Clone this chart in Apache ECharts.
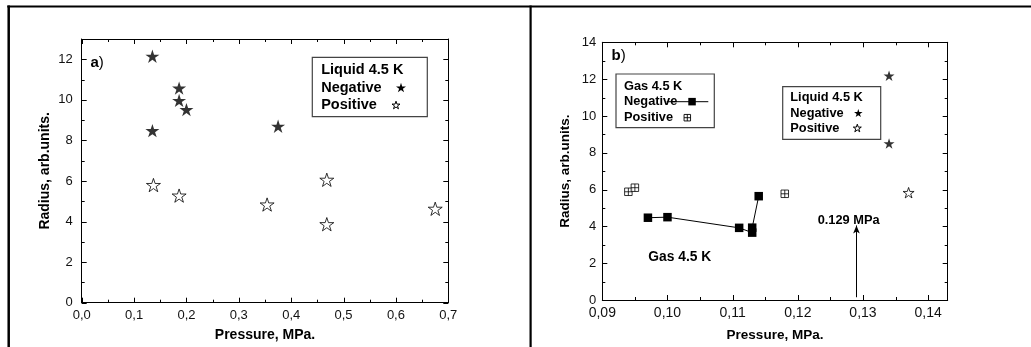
<!DOCTYPE html>
<html><head><meta charset="utf-8">
<script src="https://cdn.jsdelivr.net/npm/echarts@6/dist/echarts.min.js"></script>
<style>html,body{margin:0;padding:0;background:#fff}#c{width:1031px;height:347px}</style>
</head><body><div id="c"></div>
<script>
// ---- Panel a) data ----
const A_NEG_P = [0.135, 0.135, 0.186, 0.186, 0.200, 0.375];
const A_NEG_R = [12.15, 8.48, 10.58, 9.97, 9.52, 8.70];
const A_POS_P = [0.137, 0.186, 0.354, 0.468, 0.468, 0.675];
const A_POS_R = [5.80, 5.28, 4.84, 6.06, 3.87, 4.63];
// ---- Panel b) data ----
const B_GAS_NEG_P = [0.097, 0.100, 0.111, 0.113, 0.113, 0.114];
const B_GAS_NEG_R = [4.47, 4.50, 3.92, 3.66, 3.93, 5.64];
const B_GAS_POS_P = [0.0940, 0.0950, 0.1180];
const B_GAS_POS_R = [5.88, 6.10, 5.77];
const B_LIQ_NEG_P = [0.134, 0.134];
const B_LIQ_NEG_R = [12.18, 8.50];
const B_LIQ_POS_P = [0.137];
const B_LIQ_POS_R = [5.83];
const ARROW_P = 0.129;
const ARROW_R = [0.15, 4.05];
// ---- ticks / tick labels ----
const A_X_LABELS = [0, 0.1, 0.2, 0.3, 0.4, 0.5, 0.6, 0.7];
const A_X_MINOR = [0.05, 0.15, 0.25, 0.35, 0.45, 0.55, 0.65];
const A_Y_LABELS = [0, 2, 4, 6, 8, 10, 12];
const A_Y_MINOR = [1, 3, 5, 7, 9, 11];
const B_X_LABELS = [0.09, 0.10, 0.11, 0.12, 0.13, 0.14];
const B_X_MINOR = [0.095, 0.105, 0.115, 0.125, 0.135];
const B_Y_LABELS = [0, 2, 4, 6, 8, 10, 12, 14];
const B_Y_MINOR = [1, 3, 5, 7, 9, 11, 13];

const FONT = '"Liberation Sans", Arial, sans-serif';
const STAR_PTS = [[50,0],[61.23,34.55],[97.55,34.55],[68.16,55.9],[79.39,90.45],[50,69.1],[20.61,90.45],[31.84,55.9],[2.45,34.55],[38.77,34.55]];
const STAR_D = 'M' + STAR_PTS.map(p => p.join(',')).join('L') + 'Z';
const BOXPLUS_D = 'M0,0H10V10H0ZM5,0V10M0,5H10';
const zip = (xs, ys) => xs.map((x, i) => [x, ys[i]]);
const MAJ_LEN = 5, MIN_LEN = 3;

function axes(dim, grid, o) {
  const main = dim === 'x' ? 'bottom' : 'left';
  const opp = dim === 'x' ? 'top' : 'right';
  const frame = (pos) => ({
    type: 'value', gridIndex: grid, min: o.min, max: o.max, position: pos,
    splitLine: { show: false },
    axisLine: { show: true, onZero: false, lineStyle: { color: '#000', width: 1 } },
    axisTick: { show: false },
    axisLabel: { show: false }
  });
  const m = frame(main);
  m.name = o.name; m.nameLocation = 'middle'; m.nameGap = o.nameGap;
  m.nameTextStyle = { fontFamily: FONT, fontWeight: 'bold', fontSize: o.nameSize, color: '#000' };
  m.axisLabel = { show: true, customValues: o.labels, formatter: o.fmt, fontFamily: FONT, fontSize: o.labelSize, color: '#111', margin: o.labelMargin };
  return [m, frame(opp)];
}
const fmt1 = v => Number(v).toFixed(1).replace('.', ',');
const fmt2 = v => Number(v).toFixed(2).replace('.', ',');
const fmt0 = v => String(Math.round(v));

const xAxis = [].concat(
  axes('x', 0, { min: 0, max: 0.7, labels: A_X_LABELS, fmt: fmt1, labelSize: 13, labelMargin: 6, name: 'Pressure, MPa.', nameGap: 25, nameSize: 14 }),
  axes('x', 1, { min: 0.09, max: 0.143, labels: B_X_LABELS, fmt: fmt2, labelSize: 14, labelMargin: 6, name: 'Pressure, MPa.', nameGap: 28, nameSize: 13.5 })
);
const yAxis = [].concat(
  axes('y', 0, { min: 0, max: 13, labels: A_Y_LABELS, fmt: fmt0, labelSize: 13, labelMargin: 9, name: 'Radius, arb.units.', nameGap: 30, nameSize: 14 }),
  axes('y', 1, { min: 0, max: 14, labels: B_Y_LABELS, fmt: fmt0, labelSize: 13, labelMargin: 6, name: 'Radius, arb.units.', nameGap: 30, nameSize: 13.5 })
);
const B_AX = 2;

// inside ticks on all four sides, positioned through the axis scales
function tickData(xMaj, xMin, yMaj, yMin) {
  const out = [];
  [0, 1].forEach(side => {
    xMaj.forEach(v => out.push([0, v, MAJ_LEN, side]));
    xMin.forEach(v => out.push([0, v, MIN_LEN, side]));
    yMaj.forEach(v => out.push([1, v, MAJ_LEN, side]));
    yMin.forEach(v => out.push([1, v, MIN_LEN, side]));
  });
  return out;
}
function tickSeries(axIdx, data) {
  return {
    type: 'custom', xAxisIndex: axIdx, yAxisIndex: axIdx, silent: true, z: 3, clip: false,
    dimensions: ['d', 'v', 'len', 'side'],
    encode: { x: 1, y: 1 },
    data: data,
    renderItem: function (params, api) {
      const d = api.value(0), v = api.value(1), len = api.value(2), side = api.value(3);
      const cs = params.coordSys;
      const p = api.coord([v, v]);
      let x1, y1, x2, y2;
      if (d === 0) {
        const px = Math.round(p[0]) + 0.5;
        x1 = x2 = px;
        if (side === 0) { y1 = cs.y + cs.height; y2 = y1 - len; } else { y1 = cs.y; y2 = y1 + len; }
      } else {
        const py = Math.round(p[1]) + 0.5;
        y1 = y2 = py;
        if (side === 0) { x1 = cs.x; x2 = x1 + len; } else { x1 = cs.x + cs.width; x2 = x1 - len; }
      }
      return { type: 'line', shape: { x1: x1, y1: y1, x2: x2, y2: y2 }, style: { stroke: '#000', lineWidth: 1 } };
    }
  };
}

function starG(cx, cy, size, filled) {
  const s = size / 95.1;
  const pts = STAR_PTS.map(p => [cx + (p[0] - 50) * s, cy + (p[1] - 45.2) * s]);
  return { type: 'polygon', z: 100, shape: { points: pts },
    style: { fill: filled ? '#000' : '#fff', stroke: '#000', lineWidth: filled ? 0 : 1 } };
}
function boxPlusG(cx, cy, size) {
  const h = size / 2;
  return { type: 'group', z: 101, children: [
    { type: 'rect', z: 101, shape: { x: cx - h, y: cy - h, width: size, height: size }, style: { fill: '#fff', stroke: '#000', lineWidth: 0.9 } },
    { type: 'line', z: 102, shape: { x1: cx, y1: cy - h, x2: cx, y2: cy + h }, style: { stroke: '#000', lineWidth: 0.9 } },
    { type: 'line', z: 102, shape: { x1: cx - h, y1: cy, x2: cx + h, y2: cy }, style: { stroke: '#000', lineWidth: 0.9 } }
  ] };
}
function txt(x, y, text, size, weight) {
  return { type: 'text', z: 100, x: x, y: y, style: { text: text, fontFamily: FONT, fontSize: size, fontWeight: weight || 'bold', fill: '#000', align: 'left', verticalAlign: 'middle' } };
}
function rect(x, y, w, h) {
  return { type: 'rect', z: 90, shape: { x: x, y: y, width: w, height: h }, style: { fill: '#fff', stroke: '#444', lineWidth: 1.2 } };
}
function line(x1, y1, x2, y2, w) {
  return { type: 'line', z: 100, shape: { x1: x1, y1: y1, x2: x2, y2: y2 }, style: { stroke: '#000', lineWidth: w } };
}

const graphic = [
  line(7.3, 6.5, 1031, 6.5, 1.8),
  line(8.7, 5.6, 8.7, 347, 2.5),
  line(530.6, 5.6, 530.6, 347, 2.2),
  { type: 'text', z: 100, x: 90.5, y: 63, style: { text: '{b|a})', fontFamily: FONT, fontSize: 15, fill: '#000', verticalAlign: 'middle', rich: { b: { fontWeight: 'bold', fontSize: 15, fontFamily: FONT } } } },
  { type: 'text', z: 100, x: 611.5, y: 56, style: { text: '{b|b})', fontFamily: FONT, fontSize: 15, fill: '#000', verticalAlign: 'middle', rich: { b: { fontWeight: 'bold', fontSize: 15, fontFamily: FONT } } } },
  rect(312.3, 57.3, 115, 59.4),
  txt(321.2, 70, 'Liquid 4.5 K', 14.5),
  txt(321.2, 87.7, 'Negative', 14.5),
  txt(321.2, 105, 'Positive', 14.5),
  starG(401, 87.5, 10, true),
  starG(396, 105, 8, false),
  rect(616, 74, 98.3, 53.7),
  txt(624, 86, 'Gas 4.5 K', 12.8),
  txt(624, 101.7, 'Negative', 12.8),
  txt(624, 117.7, 'Positive', 12.8),
  line(666.7, 101.7, 708.3, 101.7, 1),
  { type: 'rect', z: 101, shape: { x: 688.3, y: 97.9, width: 7.5, height: 7.5 }, style: { fill: '#000' } },
  boxPlusG(687.3, 117.7, 6.5),
  rect(782.7, 86.7, 98, 52.6),
  txt(790.3, 97.7, 'Liquid 4.5 K', 12.8),
  txt(790.3, 113.7, 'Negative', 12.8),
  txt(790.3, 128.3, 'Positive', 12.8),
  starG(858.3, 113, 8.5, true),
  starG(857.3, 128, 8, false),
  txt(648.3, 256.7, 'Gas 4.5 K', 13.8),
  txt(817.7, 220.7, '0.129 MPa', 12.8)
];

const chart = echarts.init(document.getElementById('c'), null, { renderer: 'canvas' });
chart.setOption({
  animation: false,
  backgroundColor: '#fff',
  grid: [
    { left: 81.7, top: 39, width: 366.6, height: 263.7, containLabel: false },
    { left: 602.3, top: 42.3, width: 345.4, height: 260.4, containLabel: false }
  ],
  xAxis: xAxis,
  yAxis: yAxis,
  series: [
    tickSeries(0, tickData(A_X_LABELS, A_X_MINOR, A_Y_LABELS, A_Y_MINOR)),
    tickSeries(B_AX, tickData(B_X_LABELS, B_X_MINOR, B_Y_LABELS, B_Y_MINOR)),
    { type: 'scatter', xAxisIndex: 0, yAxisIndex: 0, data: zip(A_NEG_P, A_NEG_R), symbol: 'path://' + STAR_D, symbolKeepAspect: true, symbolSize: 14, itemStyle: { color: '#000' }, z: 5 },
    { type: 'scatter', xAxisIndex: 0, yAxisIndex: 0, data: zip(A_POS_P, A_POS_R), symbol: 'path://' + STAR_D, symbolKeepAspect: true, symbolSize: 14, itemStyle: { color: '#fff', borderColor: '#000', borderWidth: 1 }, z: 5 },
    { type: 'line', xAxisIndex: B_AX, yAxisIndex: B_AX, data: zip(B_GAS_NEG_P, B_GAS_NEG_R), symbol: 'rect', symbolSize: 8.5, showAllSymbol: true,
      lineStyle: { color: '#000', width: 1 }, itemStyle: { color: '#000' }, z: 5,
      markLine: { silent: true, animation: false, label: { show: false }, lineStyle: { color: '#000', width: 1, type: 'solid' },
        data: [[{ coord: [ARROW_P, ARROW_R[0]], symbol: 'none' }, { coord: [ARROW_P, ARROW_R[1]], symbol: 'arrow', symbolSize: [5, 8] }]] } },
    { type: 'scatter', xAxisIndex: B_AX, yAxisIndex: B_AX, data: zip(B_GAS_POS_P, B_GAS_POS_R), symbol: 'path://' + BOXPLUS_D, symbolSize: 7.5, itemStyle: { color: '#fff', borderColor: '#000', borderWidth: 1 }, z: 5 },
    { type: 'scatter', xAxisIndex: B_AX, yAxisIndex: B_AX, data: zip(B_LIQ_NEG_P, B_LIQ_NEG_R), symbol: 'path://' + STAR_D, symbolKeepAspect: true, symbolSize: 11, itemStyle: { color: '#000' }, z: 5 },
    { type: 'scatter', xAxisIndex: B_AX, yAxisIndex: B_AX, data: zip(B_LIQ_POS_P, B_LIQ_POS_R), symbol: 'path://' + STAR_D, symbolKeepAspect: true, symbolSize: 11, itemStyle: { color: '#fff', borderColor: '#000', borderWidth: 1 }, z: 5 }
  ],
  graphic: graphic
});
</script>
</body></html>
